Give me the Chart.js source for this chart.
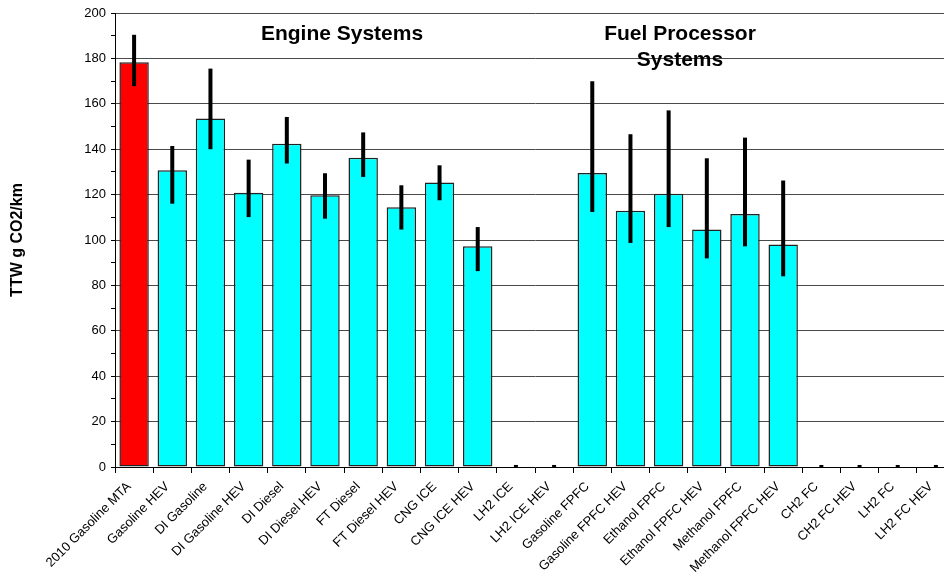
<!DOCTYPE html>
<html>
<head>
<meta charset="utf-8">
<script src="https://cdn.jsdelivr.net/npm/chart.js@4"></script>
<style>
  html, body { margin: 0; padding: 0; background: #fff; overflow: hidden; }
  #wrap { width: 960px; height: 577px; }
  canvas { display: block; }
</style>
</head>
<body>
<div id="wrap"><canvas id="ttwChart" width="960" height="577"></canvas></div>
<script>
// Vehicle / fuel system categories
const categories = [
    '2010 Gasoline MTA', 'Gasoline HEV', 'DI Gasoline', 'DI Gasoline HEV',
    'DI Diesel', 'DI Diesel HEV', 'FT Diesel', 'FT Diesel HEV',
    'CNG ICE', 'CNG ICE HEV', 'LH2 ICE', 'LH2 ICE HEV',
    'Gasoline FPFC', 'Gasoline FPFC HEV', 'Ethanol FPFC', 'Ethanol FPFC HEV',
    'Methanol FPFC', 'Methanol FPFC HEV', 'CH2 FC', 'CH2 FC HEV', 'LH2 FC', 'LH2 FC HEV'
];

// TTW g CO2/km (bar heights)
const ttwValues = [178.3, 130.7, 153.5, 120.8, 142.4, 119.7, 136.2, 114.4, 125.3, 97.2, 0, 0,
                   129.5, 112.9, 120.4, 104.6, 111.5, 98.0, 0, 0, 0, 0];

// error bar ranges
const errLow  = [167.8, 116.0, 140.0, 110.1, 133.7, 109.4, 127.8, 104.6, 117.5, 86.3, 0, 0,
                 112.3, 98.7, 105.7, 91.9, 97.2, 84.0, 0, 0, 0, 0];
const errHigh = [190.4, 141.4, 175.5, 135.4, 154.2, 129.4, 147.4, 124.1, 132.9, 105.7, 0.9, 0.9,
                 169.9, 146.6, 157.1, 136.0, 145.1, 126.2, 0.9, 0.9, 0.9, 0.9];

const yTicks = [0, 20, 40, 60, 80, 100, 120, 140, 160, 180, 200];

const barColors = categories.map((c, i) => i === 0 ? '#ff0000' : '#00ffff');

const FONT = '"Liberation Sans", Arial, sans-serif';

const errorBars = {
    id: 'errorBars',
    afterDatasetsDraw(chart) {
        const meta = chart.getDatasetMeta(0);
        const y = chart.scales.y;
        const ctx = chart.ctx;
        ctx.save();
        ctx.strokeStyle = '#000';
        ctx.lineWidth = 4;
        ctx.lineCap = 'butt';
        meta.data.forEach((bar, i) => {
            ctx.beginPath();
            ctx.moveTo(bar.x, y.getPixelForValue(errLow[i]));
            ctx.lineTo(bar.x, y.getPixelForValue(errHigh[i]));
            ctx.stroke();
        });
        ctx.restore();
    }
};

const groupLabels = {
    id: 'groupLabels',
    afterDraw(chart) {
        const ctx = chart.ctx;
        ctx.save();
        ctx.fillStyle = '#000';
        ctx.font = 'bold 21px ' + FONT;
        ctx.textAlign = 'center';
        ctx.textBaseline = 'alphabetic';
        ctx.fillText('Engine Systems', 342, 40);
        ctx.fillText('Fuel Processor', 680, 40);
        ctx.fillText('Systems', 680, 66);
        ctx.restore();
    }
};

new Chart(document.getElementById('ttwChart'), {
    type: 'bar',
    data: {
        labels: categories,
        datasets: [{
            data: ttwValues,
            backgroundColor: barColors,
            borderColor: '#222',
            borderWidth: 1.5,
            borderSkipped: false,
            barPercentage: 0.77,
            categoryPercentage: 1
        }]
    },
    options: {
        responsive: false,
        animation: false,
        devicePixelRatio: 1,
        layout: { padding: { top: 13, right: 5, left: 0, bottom: 0 } },
        plugins: {
            legend: { display: false },
            tooltip: { enabled: false }
        },
        scales: {
            x: {
                afterFit(scale) { scale.height = 110; },
                grid: {
                    offset: true,
                    drawOnChartArea: false,
                    color: '#000',
                    tickLength: 6
                },
                border: { color: '#000', width: 1 },
                ticks: {
                    autoSkip: false,
                    maxRotation: 45,
                    minRotation: 45,
                    labelOffset: -5,
                    padding: 6,
                    color: '#000',
                    font: { family: FONT, size: 13 }
                }
            },
            y: {
                min: 0,
                max: 200,
                afterFit(scale) { scale.width = 115; },
                afterBuildTicks(scale) {
                    const all = [];
                    for (let v = 0; v <= 200; v += 10) all.push({ value: v });
                    scale.ticks = all;
                },
                grid: {
                    color: ctx => (ctx.tick && yTicks.includes(ctx.tick.value) && ctx.tick.value !== 0) ? '#4a4a4a' : 'rgba(0,0,0,0)',
                    tickColor: '#000',
                    tickLength: 4
                },
                border: { color: '#000', width: 1 },
                ticks: {
                    color: '#000',
                    padding: 5,
                    font: { family: FONT, size: 13 },
                    callback: v => yTicks.includes(v) ? v : ''
                },
                title: {
                    display: true,
                    text: 'TTW g CO2/km',
                    color: '#000',
                    font: { family: FONT, size: 16, weight: 'bold' },
                    padding: { top: 8, bottom: 0 }
                }
            }
        }
    },
    plugins: [errorBars, groupLabels]
});
</script>
</body>
</html>
